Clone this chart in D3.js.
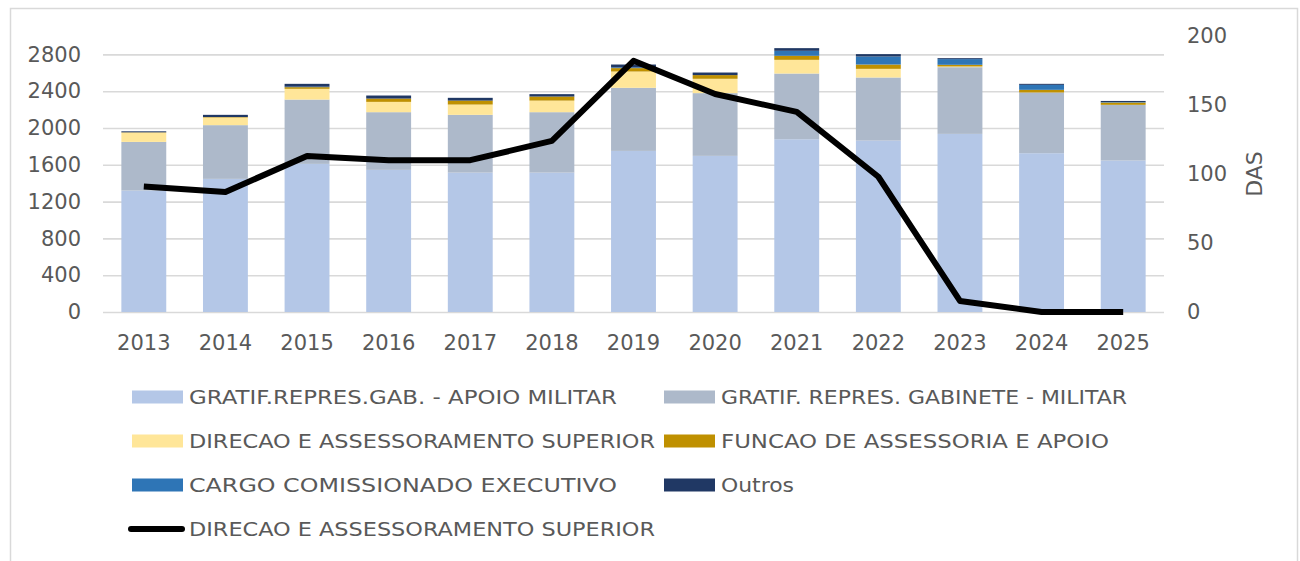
<!DOCTYPE html>
<html>
<head>
<meta charset="utf-8">
<script src="https://cdn.jsdelivr.net/npm/d3@7"></script>
<style>
  body { margin: 0; background: #fff; }
  text { font-family: "Century Gothic", "DejaVu Sans", sans-serif; fill: #595959; }
</style>
</head>
<body>
<div id="chart"></div>
<script>
// chart data
const years = ["2013","2014","2015","2016","2017","2018","2019","2020","2021","2022","2023","2024","2025"];
const apoioMilitar   = [1320, 1447, 1610, 1545, 1515, 1515, 1751, 1697, 1878, 1863, 1936, 1726, 1646];
const gabineteMilitar = [529, 584, 699, 627, 628, 657, 686, 682, 714, 686, 725, 660, 606];
const dasBars        = [101, 83, 117, 112, 112, 126, 177, 156, 149, 94, 8, 0, 0];
const funcaoApoio    = [3, 5, 18, 36, 43, 44, 37, 40, 44, 47, 18, 29, 25];
const cargoExecutivo = [0, 0, 5, 0, 0, 0, 8, 0, 54, 87, 62, 54, 5];
const outros         = [11, 24, 31, 33, 30, 26, 31, 28, 29, 26, 10, 11, 12];
const dasLine        = [91, 87, 113, 110, 110, 124, 182, 158, 145, 98, 8, 0, 0];

const leftTicks = [0, 400, 800, 1200, 1600, 2000, 2400, 2800];
const rightTicks = [0, 50, 100, 150, 200];

const seriesKeys = ["apoio", "gabinete", "das", "funcao", "cce", "outros"];
const seriesNames = [
  "GRATIF.REPRES.GAB. - APOIO MILITAR",
  "GRATIF. REPRES. GABINETE - MILITAR",
  "DIRECAO E ASSESSORAMENTO SUPERIOR",
  "FUNCAO DE ASSESSORIA E APOIO",
  "CARGO COMISSIONADO EXECUTIVO",
  "Outros"
];
const lineName = "DIRECAO E ASSESSORAMENTO SUPERIOR";
const colors = ["#B4C7E7", "#ADB9CA", "#FFE699", "#BF9000", "#2E75B6", "#203864"];

// legend label widths as they appear in the reference (layout only)
const legendWidths = [428, 406, 466, 388, 428, 73, 466];

let width = 1300,
    height = 561,
    margin = ({ top: 36, right: 136, bottom: 249, left: 103 });

const svg = d3.select("#chart")
  .append("svg")
  .attr("width", width)
  .attr("height", height);

// chart border
svg.append("rect")
  .attr("x", 10.5).attr("y", 8.5)
  .attr("width", 1287).attr("height", 600)
  .attr("fill", "none")
  .attr("stroke", "#D9D9D9")
  .attr("stroke-width", 1.5);

// table for the stack
const table = years.map((yr, i) => ({
  year: yr,
  apoio: apoioMilitar[i],
  gabinete: gabineteMilitar[i],
  das: dasBars[i],
  funcao: funcaoApoio[i],
  cce: cargoExecutivo[i],
  outros: outros[i]
}));

let x = d3.scaleBand()
  .domain(years)
  .range([margin.left, width - margin.right])
  .paddingInner(0.45)
  .paddingOuter(0.225);

let yL = d3.scaleLinear()
  .domain([0, 3000])
  .range([height - margin.bottom, margin.top]);

let yR = d3.scaleLinear()
  .domain([0, 200])
  .range([height - margin.bottom, margin.top]);

// gridlines
svg.append("g")
  .attr("transform", `translate(${margin.left},0)`)
  .call(d3.axisLeft(yL).tickValues(leftTicks).tickSize(-(width - margin.left - margin.right)).tickFormat(""))
  .call(g => g.select(".domain").remove())
  .call(g => g.selectAll("line").attr("stroke", "#D9D9D9").attr("stroke-width", 1.6));

// stacked bars
const stacked = d3.stack().keys(seriesKeys)(table);

svg.append("g")
  .selectAll("g")
  .data(stacked)
  .join("g")
  .attr("fill", (d, i) => colors[i])
  .selectAll("rect")
  .data(d => d)
  .join("rect")
  .attr("x", d => x(d.data.year))
  .attr("y", d => yL(d[1]))
  .attr("width", x.bandwidth())
  .attr("height", d => yL(d[0]) - yL(d[1]));

// DAS line on right axis
const line = d3.line()
  .x((d, i) => x(years[i]) + x.bandwidth() / 2)
  .y(d => yR(d));

svg.append("path")
  .datum(dasLine)
  .attr("fill", "none")
  .attr("stroke", "#000")
  .attr("stroke-width", 6)
  .attr("stroke-linejoin", "round")
  .attr("d", line);

// left axis
svg.append("g")
  .attr("transform", `translate(${margin.left},0)`)
  .call(d3.axisLeft(yL).tickValues(leftTicks).tickFormat(d3.format("d")).tickSize(0).tickPadding(22))
  .call(g => g.select(".domain").remove())
  .call(g => g.selectAll("text").attr("font-size", 21).attr("font-family", null));

// right axis
svg.append("g")
  .attr("transform", `translate(${width - margin.right},0)`)
  .call(d3.axisRight(yR).tickValues(rightTicks).tickSize(0).tickPadding(23))
  .call(g => g.select(".domain").remove())
  .call(g => g.selectAll("text").attr("font-size", 21).attr("font-family", null));

// bottom axis
svg.append("g")
  .attr("transform", `translate(0,${height - margin.bottom})`)
  .call(d3.axisBottom(x).tickSize(0).tickPadding(23))
  .call(g => g.select(".domain").remove())
  .call(g => g.selectAll("text").attr("font-size", 21).attr("font-family", null));

// right axis title
svg.append("text")
  .attr("transform", "translate(1262,174) rotate(-90)")
  .attr("text-anchor", "middle")
  .attr("font-size", 22)
  .text("DAS");

// legend
const legendItems = seriesNames.map((n, i) => ({ name: n, color: colors[i], type: "bar" }))
  .concat([{ name: lineName, color: "#000", type: "line" }]);

const legend = svg.append("g");
const items = legend.selectAll("g")
  .data(legendItems)
  .join("g")
  .attr("transform", (d, i) => `translate(${i % 2 ? 664 : 132},${397 + Math.floor(i / 2) * 44})`);

items.filter(d => d.type === "bar")
  .append("rect")
  .attr("x", 0).attr("y", -6.5)
  .attr("width", 51).attr("height", 13)
  .attr("fill", d => d.color);

items.filter(d => d.type === "line")
  .append("line")
  .attr("x1", -1).attr("x2", 50)
  .attr("stroke", "#000")
  .attr("stroke-width", 6)
  .attr("stroke-linecap", "round");

items.append("text")
  .attr("x", 57)
  .attr("dy", "0.36em")
  .attr("font-size", 19.6)
  .attr("textLength", (d, i) => legendWidths[i])
  .attr("lengthAdjust", "spacingAndGlyphs")
  .text(d => d.name);
</script>
</body>
</html>
